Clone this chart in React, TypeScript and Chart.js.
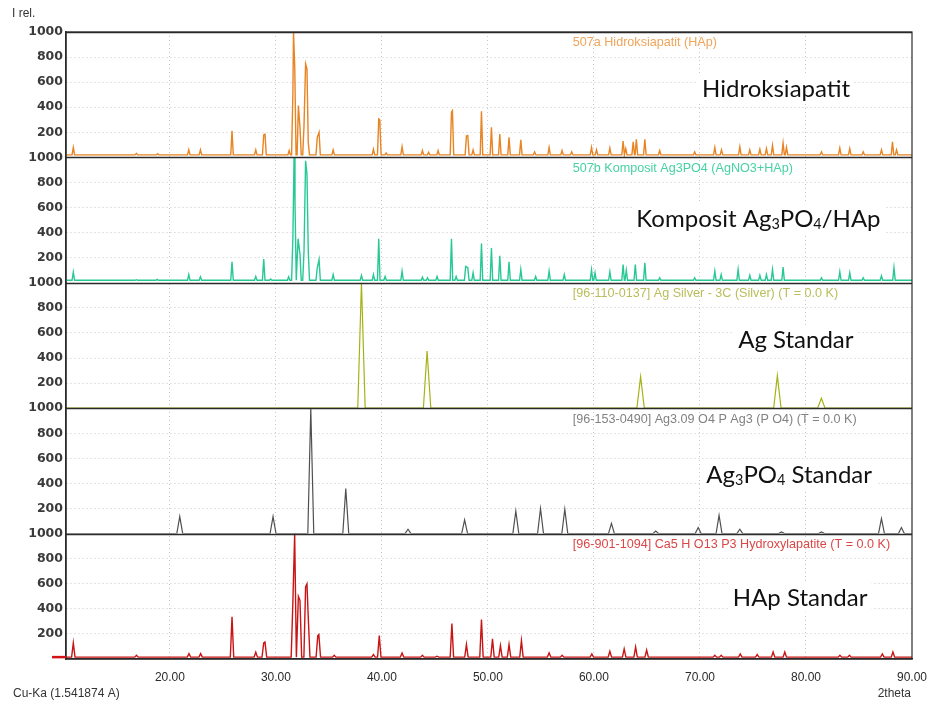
import React, { useEffect, useRef } from 'react';
import { Chart, registerables } from 'chart.js';

Chart.register(...registerables);

// ---------- axis values ----------
const X_MIN = 10.2;
const X_MAX = 90;
const xTickValues = [20, 30, 40, 50, 60, 70, 80, 90];
const yTickValues = [0, 200, 400, 600, 800, 1000];

// ---------- 507a Hidroksiapatit (HAp) – measured ----------
const hapSampleBase = 20;
const hapSamplePos = [10.89, 16.84, 18.85, 21.78, 22.88, 25.86, 28.1, 28.85, 28.97, 31.25, 31.6, 31.66, 31.78, 32.12, 32.27, 32.65, 32.8, 32.93, 33.05, 33.9, 34.07, 35.4, 39.2, 39.7, 39.8, 40.4, 41.9, 43.82, 44.4, 45.3, 46.56, 46.65, 47.97, 48.1, 48.6, 49.39, 50.33, 51.12, 51.99, 53.1, 54.4, 55.77, 56.99, 57.9, 59.77, 60.24, 61.5, 62.75, 63.0, 63.7, 64.0, 64.8, 66.2, 69.5, 71.4, 72.03, 73.76, 74.7, 75.65, 76.27, 76.84, 77.84, 78.16, 81.46, 83.19, 84.13, 85.4, 87.12, 88.16, 88.54];
const hapSampleInt = [80, 32, 30, 62, 60, 213, 60, 180, 185, 55, 510, 1000, 707, 414, 240, 250, 747, 707, 120, 160, 200, 60, 65, 307, 300, 35, 85, 55, 40, 55, 360, 373, 170, 175, 60, 368, 240, 187, 160, 140, 45, 80, 55, 45, 80, 60, 75, 130, 70, 125, 145, 145, 55, 45, 80, 60, 85, 60, 65, 70, 95, 115, 80, 45, 75, 70, 45, 60, 125, 60];

// ---------- 507b Komposit Ag3PO4 (AgNO3+HAp) – measured ----------
const compositeBase = 20;
const compositePos = [10.89, 16.84, 18.8, 21.78, 22.88, 25.86, 28.1, 28.85, 29.5, 31.2, 31.6, 31.71, 31.8, 32.09, 32.27, 32.65, 32.8, 32.93, 33.05, 33.9, 34.07, 35.4, 38.07, 39.2, 39.7, 40.3, 41.9, 43.82, 44.3, 45.2, 46.56, 47.0, 47.9, 48.1, 48.6, 49.39, 50.33, 51.12, 51.99, 53.1, 54.5, 55.77, 57.2, 59.77, 60.1, 61.5, 62.75, 63.05, 63.9, 64.8, 66.2, 69.5, 71.4, 72.0, 73.6, 74.7, 75.65, 76.27, 76.84, 77.84, 81.46, 83.19, 84.13, 85.4, 87.12, 88.3];
const compositeInt = [85, 25, 27, 66, 48, 167, 50, 190, 30, 48, 358, 1000, 645, 352, 230, 250, 973, 867, 260, 120, 185, 66, 58, 66, 352, 50, 93, 45, 40, 50, 352, 50, 130, 120, 80, 313, 278, 215, 167, 106, 50, 93, 66, 103, 80, 88, 146, 100, 146, 160, 40, 40, 93, 66, 106, 60, 60, 66, 106, 125, 40, 88, 80, 40, 56, 120];

// ---------- [96-110-0137] Ag Silver – reference ----------
const agStdBase = 0;
const agStdPos = [38.07, 44.26, 64.4, 77.3, 81.45];
const agStdInt = [1000, 456, 252, 260, 80];

// ---------- [96-153-0490] Ag3PO4 – reference ----------
const agpoStdBase = 0;
const agpoStdPos = [20.93, 29.73, 33.29, 36.59, 42.46, 47.8, 52.63, 54.96, 57.25, 61.65, 65.83, 69.83, 71.8, 73.76, 77.69, 81.46, 87.12, 89.0];
const agpoStdInt = [136, 136, 1000, 360, 35, 110, 180, 200, 194, 82, 20, 48, 146, 35, 13, 13, 120, 48];

// ---------- [96-901-1094] Hydroxylapatite – reference ----------
const hapStdBase = 15;
const hapStdPos = [10.89, 16.85, 21.8, 22.9, 25.86, 28.1, 28.85, 28.97, 31.6, 31.77, 32.12, 32.27, 32.8, 32.93, 33.05, 33.95, 34.05, 35.5, 39.2, 39.75, 41.9, 43.82, 45.2, 46.6, 47.97, 49.39, 50.43, 51.18, 51.99, 53.16, 55.77, 57.0, 59.8, 61.5, 62.85, 63.93, 64.97, 71.4, 72.0, 73.8, 75.4, 76.9, 78.0, 83.2, 84.1, 87.2, 88.2];
const hapStdInt = [128, 30, 43, 43, 336, 54, 128, 135, 452, 1000, 500, 468, 575, 599, 336, 187, 195, 30, 35, 187, 48, 30, 22, 282, 115, 314, 160, 107, 115, 147, 49, 30, 40, 62, 80, 96, 72, 30, 30, 40, 35, 56, 56, 30, 30, 40, 56];

// ---------- build line points from peak lists ----------
function profile(pos: number[], inten: number[], base: number, hw: number) {
  const pts: { x: number; y: number }[] = [{ x: X_MIN, y: base }];
  const inside = (x: number, self: number) =>
    pos.some((c, j) => j !== self && x > c - hw && x < c + hw);
  pos.forEach((c, i) => {
    if (!inside(c - hw, i)) pts.push({ x: c - hw, y: base });
    pts.push({ x: c, y: inten[i] });
    if (!inside(c + hw, i)) pts.push({ x: c + hw, y: base });
  });
  pts.push({ x: X_MAX, y: base });
  pts.sort((a, b) => a.x - b.x);
  return pts;
}

type Seg = { t: string; sub?: boolean };
const PANELS = [
  { id: 'y1', data: profile(hapSamplePos, hapSampleInt, hapSampleBase, 0.12), color: 'rgb(232,132,34)', capColor: 'rgb(240,165,90)', caption: '507a Hidroksiapatit (HAp)', label: [{ t: 'Hidroksiapatit' }] as Seg[], labelX: 70.2, labelDy: 56, width: 1.4 },
  { id: 'y2', data: profile(compositePos, compositeInt, compositeBase, 0.12), color: 'rgb(40,200,150)', capColor: 'rgb(70,210,165)', caption: '507b Komposit Ag3PO4 (AgNO3+HAp)', label: [{ t: 'Komposit Ag' }, { t: '3', sub: true }, { t: 'PO' }, { t: '4', sub: true }, { t: '/HAp' }] as Seg[], labelX: 64.0, labelDy: 61, width: 1.4 },
  { id: 'y3', data: profile(agStdPos, agStdInt, agStdBase, 0.35), color: 'rgb(165,178,20)', capColor: 'rgb(185,190,90)', caption: '[96-110-0137] Ag Silver - 3C (Silver) (T = 0.0 K)', label: [{ t: 'Ag Standar' }] as Seg[], labelX: 73.6, labelDy: 57, width: 1.2 },
  { id: 'y4', data: profile(agpoStdPos, agpoStdInt, agpoStdBase, 0.28), color: 'rgb(80,80,80)', capColor: 'rgb(130,130,130)', caption: '[96-153-0490] Ag3.09 O4 P Ag3 (P O4) (T = 0.0 K)', label: [{ t: 'Ag' }, { t: '3', sub: true }, { t: 'PO' }, { t: '4', sub: true }, { t: ' Standar' }] as Seg[], labelX: 70.6, labelDy: 66, width: 1.2 },
  { id: 'y5', data: profile(hapStdPos, hapStdInt, hapStdBase, 0.16), color: 'rgb(200,20,20)', capColor: 'rgb(220,70,70)', caption: '[96-901-1094] Ca5 H O13 P3 Hydroxylapatite (T = 0.0 K)', label: [{ t: 'HAp Standar' }] as Seg[], labelX: 73.1, labelDy: 64, width: 1.4 },
];

const TICK_FONT = { family: '"Liberation Sans", Arial, sans-serif', size: 12 };
const Y_TICK_FONT = { family: '"DejaVu Sans", sans-serif', size: 12.5, weight: 'bold' };
const BIG_FONT = 'Lato, "Open Sans", sans-serif';
const BIG_SIZE = 24;

function richWidth(ctx: CanvasRenderingContext2D, segs: Seg[], size: number) {
  let w = 0;
  for (const s of segs) {
    ctx.font = `${s.sub ? size * 0.6 : size}px ${BIG_FONT}`;
    w += ctx.measureText(s.t).width;
  }
  return w;
}
function drawRich(ctx: CanvasRenderingContext2D, segs: Seg[], x: number, y: number, size: number) {
  let cx = x;
  for (const s of segs) {
    ctx.font = `${s.sub ? size * 0.6 : size}px ${BIG_FONT}`;
    ctx.fillText(s.t, cx, s.sub ? y + size * 0.1 : y);
    cx += ctx.measureText(s.t).width;
  }
}

const decorPlugin = {
  id: 'xrdDecor',
  beforeDatasetsDraw(chart: any) {
    const { ctx, scales } = chart;
    const xs = scales.x;
    ctx.save();
    for (const p of PANELS) {
      const ys = scales[p.id];
      const top = ys.getPixelForValue(1000);
      // small caption
      ctx.font = `12.6px "Liberation Sans", Arial, sans-serif`;
      ctx.fillStyle = p.capColor;
      ctx.textBaseline = 'middle';
      ctx.textAlign = 'left';
      ctx.fillText(p.caption, xs.getPixelForValue(58.0), top + 11);
      // big label with white box
      const lx = xs.getPixelForValue(p.labelX);
      const cy = top + p.labelDy;
      const w = richWidth(ctx, p.label, BIG_SIZE);
      ctx.fillStyle = '#ffffff';
      ctx.fillRect(lx - 4, cy - 15, w + 8, 30);
      ctx.fillStyle = '#111111';
      ctx.textBaseline = 'alphabetic';
      drawRich(ctx, p.label, lx, cy + BIG_SIZE * 0.36, BIG_SIZE);
    }
    ctx.restore();
  },
  afterDraw(chart: any) {
    const { ctx, chartArea, scales } = chart;
    ctx.save();
    ctx.strokeStyle = '#2a2a2a';
    ctx.lineWidth = 1.5;
    for (const p of PANELS) {
      const y = Math.round(scales[p.id].getPixelForValue(1000)) + 0.5;
      ctx.beginPath();
      ctx.moveTo(chartArea.left, y);
      ctx.lineTo(chartArea.right, y);
      ctx.stroke();
    }
    ctx.lineWidth = 1.2;
    ctx.strokeRect(chartArea.left, chartArea.top, chartArea.right - chartArea.left, chartArea.bottom - chartArea.top);
    // baseline marker of bottom pattern
    const yb = scales.y5.getPixelForValue(hapStdBase);
    ctx.strokeStyle = 'rgb(210,20,20)';
    ctx.lineWidth = 2.5;
    ctx.beginPath();
    ctx.moveTo(chartArea.left - 14, yb);
    ctx.lineTo(chartArea.left, yb);
    ctx.stroke();
    // texts
    ctx.fillStyle = '#333333';
    ctx.font = `12px "Liberation Sans", Arial, sans-serif`;
    ctx.textBaseline = 'middle';
    ctx.textAlign = 'left';
    ctx.fillText('I rel.', 12, 14);
    ctx.fillText('Cu-Ka (1.541874 A)', 13, 694);
    ctx.textAlign = 'right';
    ctx.fillText('2theta', 911, 694);
    ctx.restore();
  },
};

function yAxis() {
  return {
    type: 'linear',
    position: 'left',
    stack: 'xrd',
    stackWeight: 1,
    min: 0,
    max: 1000,
    afterFit: (s: any) => { s.width = 66; s.paddingTop = 0; s.paddingBottom = 0; },
    afterBuildTicks: (s: any) => { s.ticks = yTickValues.map((v) => ({ value: v })); },
    ticks: {
      callback: (v: number) => (v === 0 ? '' : String(v)),
      font: Y_TICK_FONT,
      color: '#3a3a3a',
      padding: 3,
      autoSkip: false,
    },
    grid: {
      drawTicks: false,
      color: (c: any) => (c.tick && (c.tick.value === 0 || c.tick.value === 1000) ? 'rgba(0,0,0,0)' : '#c8c8c8'),
      lineWidth: 1,
    },
    border: { display: true, color: '#2a2a2a', width: 1.5, dash: [1, 3] },
  };
}

export default function App() {
  const ref = useRef<HTMLCanvasElement>(null);
  useEffect(() => {
    if (!ref.current) return;
    const scales: any = {
      x: {
        type: 'linear',
        position: 'bottom',
        min: X_MIN,
        max: X_MAX,
        afterFit: (s: any) => { s.height = 42; s.paddingRight = 15; s.paddingLeft = 0; },
        afterBuildTicks: (s: any) => { s.ticks = xTickValues.map((v) => ({ value: v })); },
        ticks: {
          callback: (v: number) => v.toFixed(2),
          font: TICK_FONT,
          color: '#2a2a2a',
          padding: 11,
          maxRotation: 0,
          autoSkip: false,
        },
        grid: {
          drawTicks: false,
          color: (c: any) => (c.tick && c.tick.value === 90 ? 'rgba(0,0,0,0)' : '#c8c8c8'),
        },
        border: { display: true, color: '#2a2a2a', width: 1.5, dash: [1, 3] },
      },
    };
    // defined bottom-first so that the last one is stacked on top
    [...PANELS].reverse().forEach((p) => { scales[p.id] = yAxis(); });

    const chart = new Chart(ref.current, {
      type: 'line',
      data: {
        datasets: PANELS.map((p) => ({
          label: p.caption,
          data: p.data,
          yAxisID: p.id,
          xAxisID: 'x',
          borderColor: p.color,
          borderWidth: p.width,
          pointRadius: 0,
          tension: 0,
          fill: false,
        })),
      },
      options: {
        animation: false,
        responsive: true,
        maintainAspectRatio: false,
        layout: { padding: { top: 32, right: 0, left: 0, bottom: 0 } },
        plugins: { legend: { display: false }, tooltip: { enabled: false }, title: { display: false } },
        scales,
      } as any,
      plugins: [decorPlugin],
    });
    return () => chart.destroy();
  }, []);

  return (
    <div style={{ position: 'absolute', left: 0, top: 0, width: 927, height: 701, background: '#fff' }}>
      <canvas ref={ref} />
    </div>
  );
}
